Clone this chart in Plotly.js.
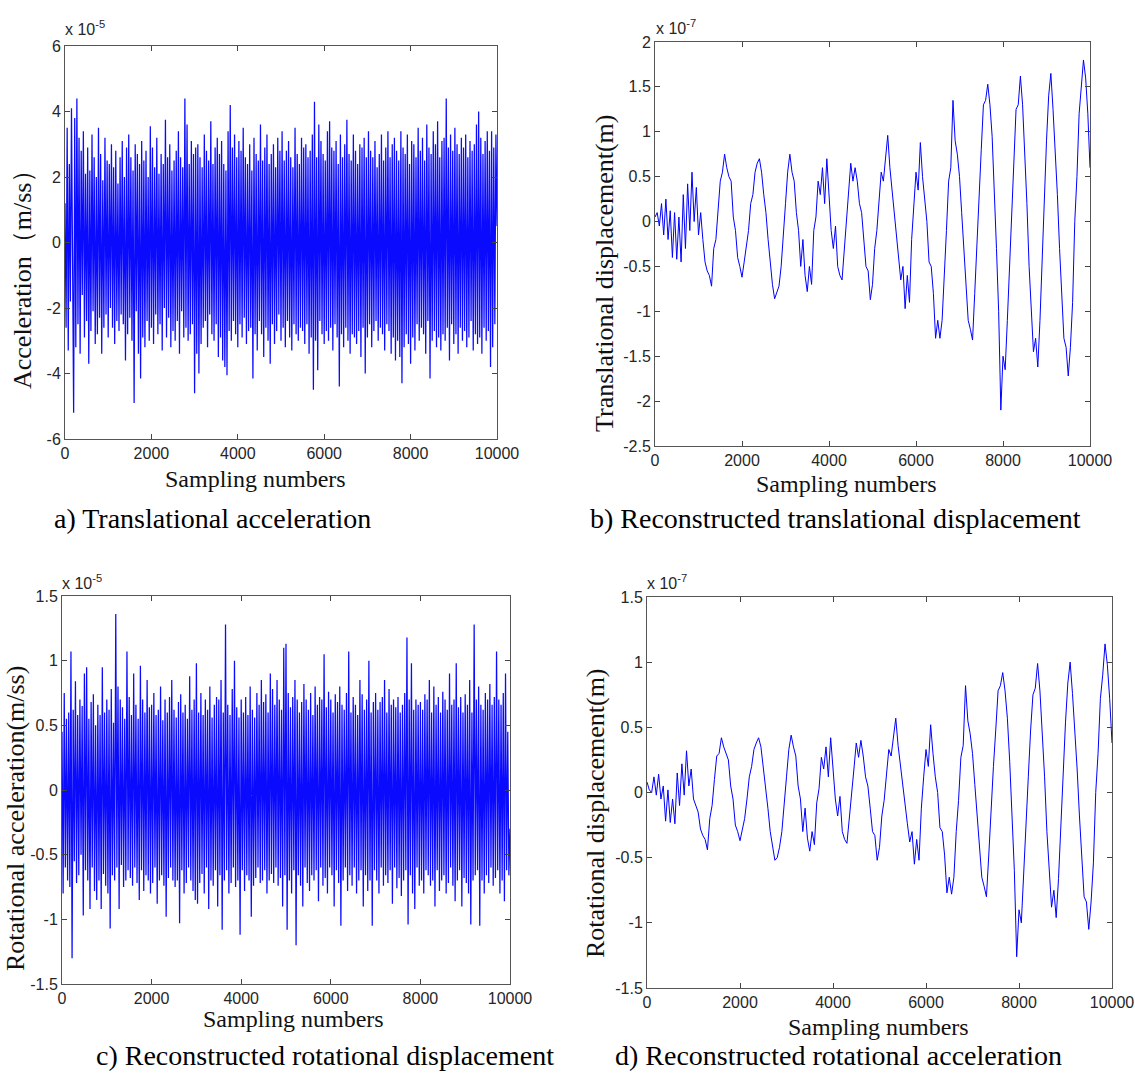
<!DOCTYPE html>
<html>
<head>
<meta charset="utf-8">
<script src="https://cdn.plot.ly/plotly-3.0.1.min.js"></script>
<style>
html,body{margin:0;padding:0;background:#fff;}
#chart{width:1135px;height:1078px;}
</style>
</head>
<body>
<div id="chart"></div>
<script>
// ---- data (values in the units shown on each axis: a,c in 1e-5, b,d in 1e-7) ----
// acceleration panels: one reading every 25 samples
const accStep = 25;
const dispStep = 50;

const transAcc = [
1.2,-2.6,3.5,-3.3,2.4,-1.8,4.1,-2.9,-5.2,3.8,-3.2,4.4,-2.5,3.2,-3.4,2.8,-1.6,3.4,-2.9,2.1,
-2.4,2.9,-3.7,2.2,-2.7,3.3,-2.1,2.6,-3.1,2.0,-2.8,3.5,-2.3,2.7,-3.4,1.9,-2.6,3.2,-2.2,2.5,
-2.9,2.4,-2.0,3.0,-2.6,2.3,-3.1,2.8,-2.4,1.8,-2.7,2.6,-2.2,3.1,-2.5,2.0,-3.6,2.9,-2.8,3.3,
-2.3,2.6,-3.0,2.2,-4.9,3.0,-2.1,2.7,-3.4,2.4,-4.15,3.1,-2.9,2.5,-3.2,2.8,-2.4,2.0,-3.0,3.55,
-2.6,2.9,-3.1,2.3,-2.2,3.2,-2.8,2.1,-2.5,2.7,-3.3,2.4,-2.0,3.75,-2.9,2.6,-2.3,3.0,-3.2,2.2,
-2.7,2.5,-3.0,2.8,-2.4,3.4,-3.4,2.6,-2.1,2.3,-2.9,4.4,-2.6,3.6,-3.0,2.4,-2.8,3.1,-2.5,2.7,
-4.6,2.9,-3.4,3.0,-4.0,2.6,-3.1,2.3,-2.6,3.3,-2.4,2.8,-3.2,2.5,-2.2,3.7,-2.8,2.4,-3.0,2.9,
-2.5,3.2,-3.5,2.7,-2.9,3.1,-3.6,2.4,-3.8,2.2,-4.05,3.4,-2.7,4.2,-3.0,2.9,-2.4,3.3,-2.8,2.6,
-3.2,3.1,-2.5,2.8,-2.9,3.5,-2.3,2.6,-3.1,2.4,-2.7,3.0,-2.6,2.2,-4.15,3.2,-2.8,2.7,-3.3,2.5,
-2.4,3.6,-2.8,2.5,-3.5,2.9,-2.6,3.3,-3.0,2.4,-3.7,2.7,-2.5,3.0,-3.1,2.3,-2.7,3.2,-2.2,2.8,
-3.0,3.4,-2.6,2.5,-3.2,2.8,-2.4,3.1,-2.9,2.6,-3.3,2.3,-2.5,3.5,-2.8,2.7,-3.0,2.4,-2.6,3.2,
-2.7,2.9,-3.1,3.0,-2.5,2.6,-3.4,2.8,-2.9,3.3,-4.5,4.3,-3.0,2.6,-3.9,3.6,-2.4,3.1,-2.8,2.7,
-3.1,2.5,-2.7,3.4,-3.0,3.7,-2.6,2.9,-3.3,2.8,-2.5,3.1,-2.9,2.4,-4.4,3.3,-2.8,2.6,-3.2,3.0,
-2.6,3.75,-3.0,2.7,-3.4,2.5,-2.8,3.3,-2.9,2.8,-3.1,2.4,-2.7,3.0,-3.5,2.9,-2.6,3.2,-4.0,2.6,
-2.9,3.4,-2.5,2.8,-3.2,2.6,-2.7,3.1,-2.4,2.3,-3.0,2.7,-2.6,3.3,-2.8,2.5,-3.3,2.9,-2.5,3.4,
-2.7,2.6,-3.4,3.0,-2.9,3.2,-3.6,2.8,-3.0,2.5,-3.5,3.4,-4.3,2.9,-3.2,2.7,-2.8,3.3,-3.1,2.4,
-3.7,3.1,-2.9,3.0,-3.3,2.6,-2.5,3.5,-3.0,2.8,-2.6,3.2,-2.8,2.5,-3.4,3.6,-2.4,2.9,-4.15,2.7,
-3.0,3.4,-2.7,3.0,-3.2,3.7,-2.9,2.6,-3.3,3.1,-2.8,3.2,-3.0,4.4,-2.6,2.9,-3.6,3.3,-2.5,2.8,
-3.1,3.5,-2.8,3.0,-3.4,2.7,-2.6,3.2,-3.0,2.9,-2.7,3.3,-3.2,2.6,-2.9,3.1,-2.4,2.8,-3.3,3.0,
-2.8,3.6,-3.1,4.0,-2.9,3.2,-3.4,2.7,-2.6,3.1,-3.0,3.4,-2.7,2.8,-3.8,3.4,-3.2,2.9,-2.5,3.3,
0.5];

const rotAcc = [
0.45,-0.8,0.75,-0.6,0.55,-0.7,0.6,-0.75,1.07,-1.3,0.62,-0.55,0.84,-0.72,0.58,-0.66,0.7,-0.5,0.65,-0.97,
0.9,-0.62,0.95,-0.7,0.55,-0.92,0.68,-0.6,0.74,-0.78,0.5,-0.85,0.66,-0.7,0.58,-0.92,0.95,-0.65,0.6,-0.74,
0.7,-0.8,0.62,-1.07,0.78,-0.66,0.52,-0.7,1.36,-0.6,0.8,-0.92,0.7,-0.58,0.64,-0.75,0.55,-0.7,1.07,-0.62,
0.72,-0.68,0.58,-0.74,0.9,-0.6,0.66,-0.72,0.55,-0.85,0.96,-0.62,0.7,-0.78,0.6,-0.66,0.85,-0.7,0.64,-0.8,
0.66,-0.72,0.75,-0.6,0.58,-0.88,0.62,-0.7,0.8,-0.66,0.54,-0.74,0.7,-0.98,0.6,-0.68,0.72,-0.6,0.85,-0.7,
0.62,-0.75,0.56,-0.7,0.68,-1.03,0.74,-0.62,0.6,-0.8,0.66,-0.72,0.55,-0.6,0.88,-0.7,0.62,-0.78,0.7,-0.85,
0.98,-0.88,0.6,-0.72,0.75,-0.65,0.58,-0.8,0.7,-0.6,0.62,-0.92,0.8,-0.7,0.56,-0.74,0.66,-0.62,0.72,-0.9,
0.7,-0.66,0.85,-1.08,0.6,-0.7,1.28,-0.62,0.66,-0.8,0.58,-0.72,0.78,-0.6,1.0,-0.75,0.64,-0.7,0.56,-1.12,
0.7,-0.62,0.6,-0.78,0.72,-0.66,0.58,-0.7,0.8,-0.98,0.62,-0.74,0.56,-0.68,0.75,-0.6,0.66,-0.72,0.85,-0.7,
0.68,-0.62,0.74,-0.8,0.6,-0.7,0.9,-0.65,0.78,-0.72,0.66,-0.6,0.85,-0.74,0.7,-0.68,0.62,-0.9,1.1,-0.66,
1.13,-1.08,0.75,-0.7,0.64,-0.8,0.72,-0.62,0.85,-1.2,0.7,-0.66,0.6,-0.74,0.68,-0.9,0.82,-0.6,0.7,-0.72,
0.62,-0.78,0.75,-0.66,0.58,-0.7,0.8,-0.62,0.66,-0.86,0.72,-0.6,0.7,-0.74,1.05,-0.68,0.64,-0.8,0.76,-0.6,
0.7,-0.66,0.6,-0.9,0.74,-0.62,0.68,-0.72,0.8,-1.05,0.66,-0.7,0.62,-0.6,0.75,-0.78,1.07,-0.66,0.6,-0.74,
0.72,-0.6,0.66,-0.8,0.58,-0.7,0.85,-0.62,0.74,-0.9,0.62,-0.66,0.7,-0.78,1.0,-0.7,0.6,-1.05,0.68,-0.62,
0.75,-0.7,0.62,-0.8,0.68,-0.6,0.72,-0.74,0.85,-0.66,0.6,-0.72,0.78,-0.62,0.66,-0.88,0.7,-0.6,0.64,-0.76,
0.72,-0.68,0.6,-0.82,0.66,-0.7,0.75,-0.62,1.18,-1.04,0.7,-0.66,0.98,-0.8,0.62,-0.92,0.7,-0.6,0.66,-0.74,
0.68,-0.7,0.62,-0.8,0.74,-0.62,0.7,-0.66,0.85,-0.74,0.6,-0.7,0.8,-0.9,0.66,-0.62,0.72,-0.78,0.6,-0.7,
0.76,-0.66,0.7,-0.8,0.62,-0.72,0.9,-0.6,0.66,-0.74,0.7,-0.86,0.98,-0.7,0.64,-0.62,0.72,-0.9,0.6,-0.68,
0.74,-0.72,0.66,-0.8,0.85,-1.04,0.6,-0.7,1.28,-0.66,0.7,-0.62,0.8,-1.05,0.66,-0.7,0.62,-0.8,0.75,-0.66,
0.7,-0.72,0.82,-0.6,0.66,-0.74,0.72,-0.68,1.07,-0.62,0.7,-0.8,0.66,-0.7,0.75,-0.86,0.9,-0.62,0.45,-0.66,
-0.3];

// displacement panels: one reading every 50 samples
const transDisp = [
0.05,0.1,-0.05,0.2,-0.15,0.25,-0.2,0.12,-0.4,0.1,-0.42,0.05,-0.45,0.3,-0.3,0.42,-0.1,0.55,0.0,0.38,
-0.15,0.1,-0.2,-0.45,-0.55,-0.6,-0.72,-0.3,-0.2,0.15,0.45,0.55,0.75,0.6,0.5,0.45,0.05,-0.1,-0.4,-0.5,
-0.62,-0.45,-0.3,-0.1,0.2,0.3,0.55,0.65,0.7,0.55,0.3,0.1,-0.2,-0.5,-0.7,-0.86,-0.8,-0.72,-0.5,-0.1,
0.2,0.55,0.75,0.55,0.45,0.1,-0.1,-0.5,-0.2,-0.6,-0.78,-0.5,-0.7,-0.1,0.05,0.45,0.3,0.6,0.2,0.7,
0.35,-0.1,-0.3,-0.05,-0.5,-0.6,-0.65,-0.3,0.05,0.3,0.65,0.45,0.6,0.45,0.2,0.1,-0.2,-0.5,-0.55,-0.87,
-0.7,-0.3,-0.1,0.25,0.55,0.45,0.7,0.96,0.6,0.35,0.1,-0.2,-0.4,-0.65,-0.5,-0.97,-0.6,-0.9,-0.2,0.2,
0.55,0.35,0.88,0.5,0.2,0.0,-0.45,-0.5,-0.8,-1.3,-1.1,-1.3,-1.1,-0.5,-0.1,0.45,0.6,1.35,0.9,0.75,
0.5,0.1,-0.3,-0.7,-1.1,-1.2,-1.32,-0.8,-0.2,0.35,0.8,1.3,1.35,1.53,1.3,0.95,0.4,-0.3,-1.0,-2.1,
-1.5,-1.65,-1.1,-0.5,0.2,0.8,1.25,1.3,1.62,1.3,0.8,0.2,-0.5,-1.0,-1.45,-1.3,-1.62,-1.1,-0.4,0.3,
0.9,1.4,1.65,1.25,0.8,0.3,-0.3,-0.8,-1.3,-1.4,-1.72,-1.4,-0.9,0.0,0.5,1.2,1.5,1.8,1.6,1.2,
0.6];

const rotDisp = [
0.08,0.02,0.0,0.12,-0.02,0.14,-0.05,0.05,-0.22,0.02,-0.23,-0.05,-0.24,0.15,-0.1,0.22,-0.02,0.32,0.05,0.18,
-0.05,-0.1,-0.15,-0.28,-0.33,-0.36,-0.44,-0.2,-0.1,0.1,0.28,0.3,0.42,0.35,0.3,0.25,0.05,-0.05,-0.25,-0.3,
-0.37,-0.27,-0.2,-0.05,0.12,0.2,0.33,0.38,0.42,0.35,0.2,0.05,-0.12,-0.3,-0.42,-0.52,-0.5,-0.42,-0.3,-0.05,
0.12,0.33,0.44,0.35,0.28,0.05,-0.05,-0.3,-0.12,-0.35,-0.45,-0.3,-0.4,-0.08,0.03,0.27,0.18,0.35,0.12,0.42,
0.2,-0.05,-0.18,-0.03,-0.3,-0.36,-0.39,-0.18,0.03,0.18,0.38,0.27,0.4,0.28,0.12,0.05,-0.12,-0.3,-0.33,-0.52,
-0.42,-0.18,-0.06,0.15,0.33,0.28,0.42,0.57,0.36,0.2,0.06,-0.12,-0.24,-0.38,-0.3,-0.55,-0.36,-0.52,-0.12,0.12,
0.33,0.2,0.52,0.3,0.12,0.0,-0.27,-0.3,-0.48,-0.77,-0.65,-0.78,-0.65,-0.3,-0.06,0.27,0.36,0.82,0.55,0.45,
0.3,0.06,-0.18,-0.42,-0.65,-0.72,-0.8,-0.48,-0.12,0.2,0.48,0.78,0.82,0.92,0.78,0.57,0.24,-0.18,-0.6,-1.26,
-0.9,-1.0,-0.66,-0.3,0.12,0.48,0.75,0.8,0.99,0.78,0.48,0.12,-0.3,-0.6,-0.88,-0.75,-0.96,-0.66,-0.24,0.18,
0.54,0.84,1.0,0.76,0.48,0.18,-0.18,-0.48,-0.8,-0.84,-1.05,-0.84,-0.54,0.0,0.3,0.72,0.9,1.14,0.98,0.72,
0.38];

const xTickVals = [0,2000,4000,6000,8000,10000];
const xTickText = ['0','2000','4000','6000','8000','10000'];
const yTicksA = [-6,-4,-2,0,2,4,6];
const yTicksAText = ['-6','-4','-2','0','2','4','6'];
const yTicksB = [-2.5,-2,-1.5,-1,-0.5,0,0.5,1,1.5,2];
const yTicksBText = ['-2.5','-2','-1.5','-1','-0.5','0','0.5','1','1.5','2'];
const yTicksCD = [-1.5,-1,-0.5,0,0.5,1,1.5];
const yTicksCDText = ['-1.5','-1','-0.5','0','0.5','1','1.5'];

const yTitles = ['Acceleration（m/ss）','Translational displacement(m)','Rotational acceleration(m/ss)','Rotational displacement(m)'];
const xTitle = 'Sampling numbers';
const exponents = ['x 10<sup>-5</sup>','x 10<sup>-7</sup>','x 10<sup>-5</sup>','x 10<sup>-7</sup>'];
const captions = ['a) Translational acceleration','b) Reconstructed translational displacement','c) Reconstructed rotational displacement','d) Reconstructed rotational acceleration'];

// ---- build ----
const W = 1135, H = 1078;
const px = v => v / W;
const py = v => 1 - v / H;

function xs(arr, step){ return arr.map((_, i) => i * step); }

const accLine = {color:'rgb(10,10,255)', width:1.25};
const dispLine = {color:'rgb(0,0,255)', width:1};
const traces = [
  {x: xs(transAcc, accStep), y: transAcc, xaxis:'x', yaxis:'y', type:'scatter', mode:'lines', line:accLine},
  {x: xs(transDisp, dispStep), y: transDisp, xaxis:'x2', yaxis:'y2', type:'scatter', mode:'lines', line:dispLine},
  {x: xs(rotAcc, accStep), y: rotAcc, xaxis:'x3', yaxis:'y3', type:'scatter', mode:'lines', line:accLine},
  {x: xs(rotDisp, dispStep), y: rotDisp, xaxis:'x4', yaxis:'y4', type:'scatter', mode:'lines', line:dispLine}
];

const tickFont = {family:'Liberation Sans, Arial, sans-serif', size:16, color:'#262626'};
function xax(dom, anchor){
  return {domain:dom, anchor:anchor, range:[0,10000], tickvals:xTickVals, ticktext:xTickText,
    ticks:'inside', ticklen:5, tickcolor:'#444', mirror:'ticks', showline:true, linecolor:'#555', linewidth:1,
    showgrid:false, zeroline:false, tickfont:tickFont, fixedrange:true};
}
function yax(dom, anchor, range, tv, tt){
  return {domain:dom, anchor:anchor, range:range, tickvals:tv, ticktext:tt,
    ticks:'inside', ticklen:5, tickcolor:'#444', mirror:'ticks', showline:true, linecolor:'#555', linewidth:1,
    showgrid:false, zeroline:false, tickfont:tickFont, fixedrange:true};
}

// plot boxes in pixels [left, right, top, bottom]
const boxes = [[65,497,46,439],[655,1090,42,446],[62,510,596,984],[647,1112,597,988]];
const dom = boxes.map(b => ({x:[px(b[0]), px(b[1])], y:[py(b[3]), py(b[2])]}));

const serif = 'Liberation Serif, Times New Roman, serif';
const annotations = [];
// y titles
const yTitlePos = [[22,273],[604,274],[15,819],[595,813]];
yTitlePos.forEach((p,i) => annotations.push({text:yTitles[i], x:px(p[0]), y:py(p[1]), xref:'paper', yref:'paper',
  textangle:-90, showarrow:false, xanchor:'center', yanchor:'middle', font:{family:serif, size:26, color:'#111'}}));
// x titles
const xTitlePos = [[255,479],[846,484],[293,1019],[878,1027]];
xTitlePos.forEach(p => annotations.push({text:xTitle, x:px(p[0]), y:py(p[1]), xref:'paper', yref:'paper',
  showarrow:false, xanchor:'center', yanchor:'middle', font:{family:serif, size:24, color:'#111'}}));
// exponent labels
const expPos = [[63,28],[654,27],[60,582],[645,582]];
expPos.forEach((p,i) => annotations.push({text:exponents[i], x:px(p[0]), y:py(p[1]), xref:'paper', yref:'paper',
  showarrow:false, xanchor:'left', yanchor:'middle', font:{family:'Liberation Sans, Arial, sans-serif', size:16, color:'#262626'}}));
// captions
const capPos = [[52,518],[588,518],[94,1055],[613,1055]];
capPos.forEach((p,i) => annotations.push({text:captions[i], x:px(p[0]), y:py(p[1]), xref:'paper', yref:'paper',
  showarrow:false, xanchor:'left', yanchor:'middle', font:{family:serif, size:28, color:'#000'}}));

const layout = {
  width:W, height:H, margin:{l:0,r:0,t:0,b:0}, paper_bgcolor:'#fff', plot_bgcolor:'#fff', showlegend:false,
  xaxis: xax(dom[0].x,'y'),   yaxis: yax(dom[0].y,'x',[-6,6],yTicksA,yTicksAText),
  xaxis2: xax(dom[1].x,'y2'), yaxis2: yax(dom[1].y,'x2',[-2.5,2],yTicksB,yTicksBText),
  xaxis3: xax(dom[2].x,'y3'), yaxis3: yax(dom[2].y,'x3',[-1.5,1.5],yTicksCD,yTicksCDText),
  xaxis4: xax(dom[3].x,'y4'), yaxis4: yax(dom[3].y,'x4',[-1.5,1.5],yTicksCD,yTicksCDText),
  annotations: annotations
};

Plotly.newPlot('chart', traces, layout, {displayModeBar:false, staticPlot:true});
</script>
</body>
</html>
